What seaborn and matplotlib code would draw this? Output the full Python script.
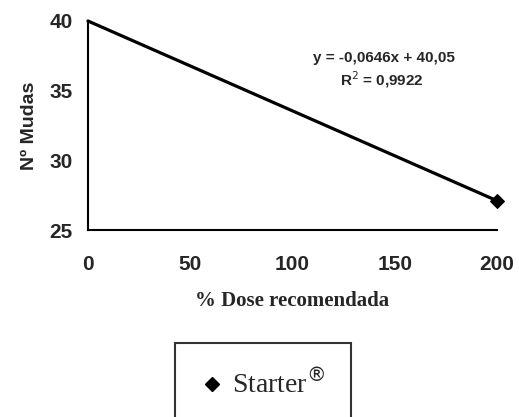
import matplotlib
matplotlib.use("Agg")
import matplotlib.pyplot as plt
import seaborn as sns
import pandas as pd
from matplotlib.lines import Line2D

dose = [0, 200]
mudas = [40.0, 27.1]
series_name = "Starter$^{®}$"
x_ticks = [0, 50, 100, 150, 200]
y_ticks = [25, 30, 35, 40]
equation = "y = -0,0646x + 40,05"
r2_text = "R$^2$ = 0,9922"

sns.set_style("white")
plt.rcParams['font.family'] = ['Liberation Sans', 'DejaVu Sans']

df = pd.DataFrame({"dose": dose, "mudas": mudas})

fig = plt.figure(figsize=(5.19, 4.17), dpi=100)
ax = fig.add_axes([88/519, 187/417, 409/519, 209/417])

sns.lineplot(data=df, x="dose", y="mudas", ax=ax, color="black", linewidth=2.3,
             marker="D", markersize=7.5, markeredgecolor="black", markerfacecolor="black",
             markevery=[1], clip_on=False)

ax.set_xlim(0, 200)
ax.set_ylim(25, 40)
ax.set_xticks(x_ticks)
ax.set_yticks(y_ticks)
ax.tick_params(axis="both", labelsize=15, length=4, width=1.2, color="black", direction="out")
ax.tick_params(axis="x", pad=16, direction="inout")
ax.tick_params(axis="y", pad=7)
for lab in ax.get_xticklabels() + ax.get_yticklabels():
    lab.set_fontweight("bold")

for s in ["top", "right"]:
    ax.spines[s].set_visible(False)
for s in ["left", "bottom"]:
    ax.spines[s].set_color("black")
    ax.spines[s].set_linewidth(1.5)

ax.set_ylabel("Nº Mudas", fontsize=14, fontweight="bold", labelpad=8)
ax.set_xlabel("% Dose recomendada", fontsize=15, fontweight="bold",
              family=["Liberation Serif", "DejaVu Serif"], labelpad=12)

fig.text(384/519, 1 - 58/417, equation, ha="center", va="center",
         fontsize=11, fontweight="bold")
fig.text(382/519, 1 - 80/417, r2_text, ha="center", va="center",
         fontsize=11, fontweight="bold")

handle = Line2D([], [], linestyle="none", marker="D", color="black", markersize=7)
leg = fig.legend([handle], [series_name], loc="upper center",
                 bbox_to_anchor=(263/519, 1 - 343/417), frameon=True, fancybox=False,
                 prop={"family": ["Liberation Serif", "DejaVu Serif"], "size": 20},
                 borderpad=0.95, handletextpad=0.3, handlelength=0.8, borderaxespad=0)
leg.get_frame().set_edgecolor("black")
leg.get_frame().set_linewidth(1.5)

fig.savefig("out.png", dpi=100)
